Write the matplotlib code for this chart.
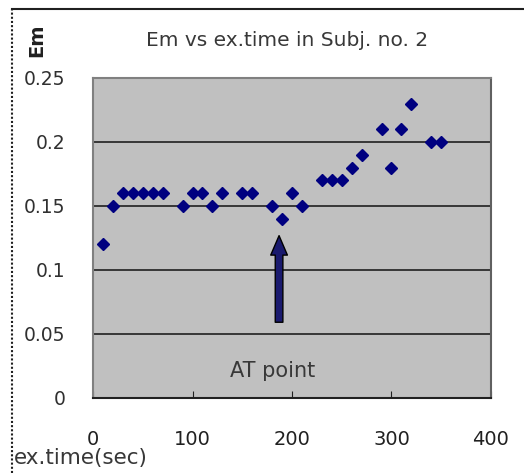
import matplotlib
matplotlib.use("Agg")
from matplotlib import pyplot as plt
from matplotlib.patches import FancyArrowPatch
from matplotlib.lines import Line2D

# data
time_s = [10, 20, 30, 40, 50, 60, 70, 90, 100, 110, 120, 130, 150, 160,
          180, 190, 200, 210, 230, 240, 250, 260, 270, 290, 300, 310, 320, 340, 350]
em = [0.12, 0.15, 0.16, 0.16, 0.16, 0.16, 0.16, 0.15, 0.16, 0.16, 0.15, 0.16, 0.16, 0.16,
      0.15, 0.14, 0.16, 0.15, 0.17, 0.17, 0.17, 0.18, 0.19, 0.21, 0.18, 0.21, 0.23, 0.20, 0.20]
x_ticks = [0, 100, 200, 300, 400]
y_ticks = [0, 0.05, 0.1, 0.15, 0.2, 0.25]
y_labels = ["0", "0.05", "0.1", "0.15", "0.2", "0.25"]
at_time, at_from, at_to = 187, 0.057, 0.129

plt.rcParams["font.family"] = ["DejaVu Sans"]
fig = plt.figure(figsize=(5.24, 4.73), dpi=100)
ax = fig.add_axes([0.1775, 0.1586, 0.7595, 0.6765])
ax.set_facecolor("#c0c0c0")

for y in y_ticks[1:-1]:
    ax.axhline(y, color="#202020", lw=1.2, zorder=1)

ax.plot(time_s, em, "D", color="#000080", ms=6, mec="#000080", zorder=3)

arr = FancyArrowPatch((at_time, at_from), (at_time, at_to),
                      arrowstyle="simple,head_length=1.4,head_width=1.2,tail_width=0.55",
                      mutation_scale=10, fc="#1a1a6e", ec="black", lw=1, zorder=4)
ax.add_patch(arr)
ax.text(181, 0.021, "AT point", ha="center", va="center", fontsize=15, color="#383838")

ax.set_xlim(0, 400)
ax.set_ylim(0, 0.25)
ax.set_xticks(x_ticks)
ax.set_yticks(y_ticks)
ax.set_xticklabels([str(v) for v in x_ticks], fontsize=14, color="#202020")
ax.set_yticklabels(y_labels, fontsize=13.5, color="#303030")
ax.tick_params(axis="x", direction="in", length=5, pad=23, color="#202020")
ax.tick_params(axis="y", length=0, pad=20)
ax.spines["left"].set_color("#808080")
ax.spines["top"].set_color("#808080")
ax.spines["right"].set_color("#606060")
ax.spines["bottom"].set_color("#202020")
for s in ax.spines.values():
    s.set_linewidth(1.5)

fig.text(0.548, 0.915, "Em vs ex.time in Subj. no. 2", ha="center", va="center",
         fontsize=14.5, color="#383838")
fig.text(0.071, 0.915, "Em", rotation=90, ha="center", va="center",
         fontsize=14, fontweight="bold", color="#202020")
fig.text(0.027, 0.031, "ex.time(sec)", ha="left", va="center", fontsize=15.5, color="#383838")

# outer chart border (left and top visible in reference)
fig.add_artist(Line2D([12 / 524, 12 / 524], [0, 1 - 9 / 473], color="#202020", lw=1.5,
                      ls=(0, (1, 1))))
fig.add_artist(Line2D([12 / 524, 1], [1 - 9 / 473, 1 - 9 / 473], color="#202020", lw=1.5))

fig.savefig("out.png", dpi=100)
